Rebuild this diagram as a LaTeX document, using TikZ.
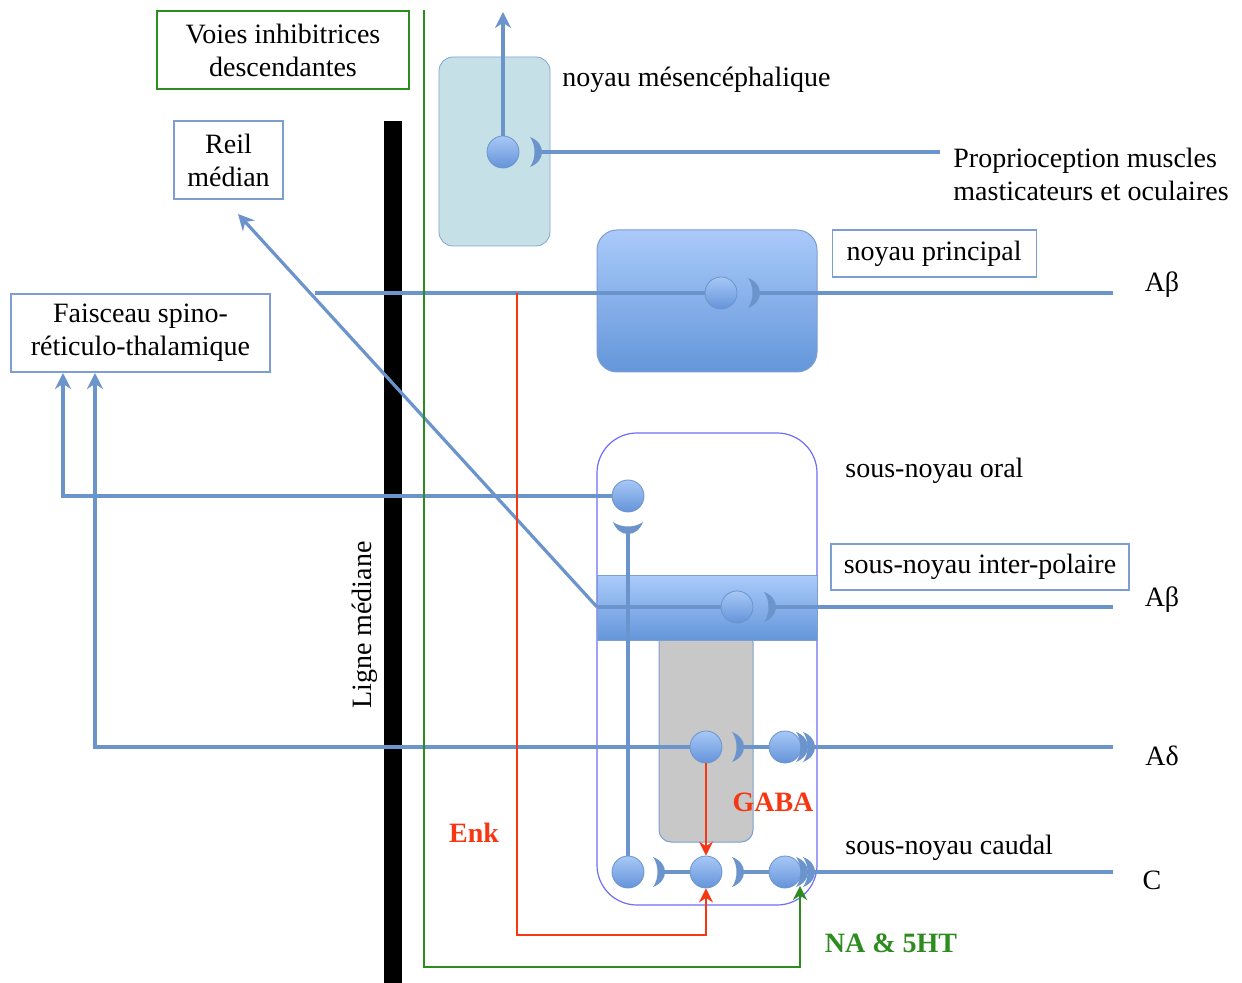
\documentclass[tikz,border=0pt]{standalone}
\usepackage{fontspec}
\setmainfont{Liberation Serif}
\usetikzlibrary{positioning, arrows.meta}

\definecolor{axon}{RGB}{108,148,204}
\definecolor{frameblue}{RGB}{125,158,208}
\definecolor{outerblue}{RGB}{110,110,250}
\definecolor{descgreen}{RGB}{45,140,30}
\definecolor{enkred}{RGB}{245,55,20}
\definecolor{mesfill}{RGB}{198,224,232}
\definecolor{mesdraw}{RGB}{130,165,210}
\definecolor{nucltop}{RGB}{170,202,250}
\definecolor{nuclbot}{RGB}{100,150,218}
\definecolor{somatop}{RGB}{168,200,246}
\definecolor{somabot}{RGB}{100,148,218}
\definecolor{greybox}{RGB}{200,200,200}

\tikzstyle{labelbox} = [rectangle, draw=frameblue, line width=0.6pt, align=center, inner sep=0pt]
\tikzstyle{greenbox} = [rectangle, draw=descgreen, line width=0.6pt, align=center, inner sep=0pt]
\tikzstyle{note} = [align=left, inner sep=0pt, anchor=west]
\tikzstyle{nucleus} = [rectangle, rounded corners=10pt, draw=frameblue, line width=0.5pt, top color=nucltop, bottom color=nuclbot]
\tikzstyle{soma} = [circle, minimum size=16pt, inner sep=0pt, draw=axon, line width=0.4pt, top color=somatop, bottom color=somabot]
\tikzstyle{fibre} = [draw=axon, line width=1.6pt]
\tikzstyle{fibrearrow} = [fibre, -{Stealth[length=8pt, width=8pt]}]
\tikzstyle{redarrow} = [draw=enkred, line width=1pt, -{Stealth[length=7pt, width=7pt]}]
\tikzstyle{greenarrow} = [draw=descgreen, line width=1pt, -{Stealth[length=7pt, width=7pt]}]
\tikzstyle{transmitter} = [font=\fontsize{14}{16.5}\selectfont\bfseries, inner sep=0pt]
\tikzset{bouton/.pic={\fill[axon] (0,-15) .. controls (16,-9) and (16,9) .. (0,15) .. controls (6,7) and (6,-7) .. (0,-15) -- cycle;}}

\begin{document}
\begin{tikzpicture}[x=0.5pt, y=-0.5pt, font=\fontsize{14}{16.5}\selectfont]
\useasboundingbox (0,0) rectangle (1242,983);
\fill[white] (0,0) rectangle (1242,983);

% Midline
\fill[black] (384,121) rectangle (402,983);
\node (midline) [rotate=90] at (365,625) {Ligne médiane};

% Nuclei
\node (mes) [rectangle, rounded corners=7pt, draw=mesdraw, fill=mesfill, minimum width=55.5pt, minimum height=94.5pt] at (494.5,151.5) {};
\node (princ) [nucleus, minimum width=110pt, minimum height=71pt] at (707,301) {};
\node (spinal) [rectangle, rounded corners=20pt, draw=outerblue, line width=0.6pt, minimum width=110pt, minimum height=236pt] at (707,669) {};
\node (grey) [rectangle, rounded corners=6pt, draw=frameblue, line width=0.5pt, fill=greybox, minimum width=47pt, minimum height=106pt] at (706,736) {};
\node (inter) [rectangle, draw=frameblue, line width=0.5pt, top color=nucltop, bottom color=nuclbot, minimum width=110pt, minimum height=32pt] at (707,608) {};

% Boxes and texts
\node (voies) [greenbox, minimum width=126pt, minimum height=39pt] at (283,50) {Voies inhibitrices\\descendantes};
\node (reil) [labelbox, minimum width=54.5pt, minimum height=39pt] at (228.5,160) {Reil\\médian};
\node (faisceau) [labelbox, minimum width=129.5pt, minimum height=39pt] at (140.5,333) {Faisceau spino-\\réticulo-thalamique};
\node (mestext) [note] at (562,80) {noyau mésencéphalique};
\node (proprio) [note] at (953,174) {Proprioception muscles\\masticateurs et oculaires};
\node (princtext) [labelbox, anchor=north west, minimum width=102pt, minimum height=23.5pt] at ([xshift=7pt]princ.north east) {noyau principal};
\node (oraltext) [note] at (845,471) {sous-noyau oral};
\node (intertext) [labelbox, minimum width=149pt, minimum height=23pt] at (980,567) {sous-noyau inter-polaire};
\node (caudtext) [note] at (845,848) {sous-noyau caudal};
\node (abeta1) at (1162,285) {Aβ};
\node (abeta2) at (1162,600) {Aβ};
\node (adelta) at (1162,756) {Aδ};
\node (cfib) at (1152,880) {C};
\node (gaba) [transmitter, text=enkred] at (773,802) {GABA};
\node (enk) [transmitter, text=enkred] at (474,833) {Enk};
\node (nahet) [transmitter, text=descgreen] at (891,943) {NA \& 5HT};

% Neurons
\node (mesN) [soma] at (503,152) {};
\node (prN) [soma] at (721,293) {};
\node (orN) [soma] at (628,496) {};
\node (ipN) [soma] at (737,607) {};
\node (adN1) [soma] at (706,747) {};
\node (adN2) [soma] at (785,747) {};
\node (cN1) [soma] at (628,872) {};
\node (cN2) [soma] at (706,872) {};
\node (cN3) [soma] at (785,872) {};

% Synapses
\coordinate (mesB) at (530,152);
\coordinate (prB) at (748,293);
\coordinate (orB) at (628,522);
\coordinate (ipB) at (764,607);
\coordinate (adB1) at (732,747);
\coordinate (adB2a) at (796,747);
\coordinate (adB2b) at (803,747);
\coordinate (cB1) at (653,872);
\coordinate (cB2) at (732,872);
\coordinate (cB3a) at (796,872);
\coordinate (cB3b) at (803,872);
\foreach \b in {mesB, prB, ipB, adB1, adB2a, adB2b, cB1, cB2, cB3a, cB3b}
  \pic at (\b) {bouton};
\pic[rotate=-90] at (orB) {bouton};

% Free ends
\coordinate (mesTop) at (503,12);
\coordinate (propIn) at (940,152);
\coordinate (prLeft) at (315,293);
\coordinate (prRight) at (1113,293);
\coordinate (ipLeft) at (597,607);
\coordinate (ipRight) at (1113,607);
\coordinate (reilIn) at (238,214);
\coordinate (fsIn1) at (63,373);
\coordinate (fsIn2) at (95,373);
\coordinate (adRight) at (1113,747);
\coordinate (cRight) at (1113,872);
\coordinate (enkStart) at (517,293);
\coordinate (enkCorner) at (706,935);
\coordinate (naStart) at (424,10);
\coordinate (naCorner) at (800,967);
\coordinate (naEnd) at (800,886);

% Fibres
\draw [fibrearrow] (mesN.north) -- (mesTop);
\draw [fibre] ([xshift=5.5pt]mesB) -- (propIn);
\draw [fibre] (prLeft) -- (prN.west);
\draw [fibre] ([xshift=5.5pt]prB) -- (prRight);
\draw [fibrearrow] (ipLeft) -- (reilIn);
\draw [fibre] (ipLeft) -- (ipN.west);
\draw [fibre] ([xshift=5.5pt]ipB) -- (ipRight);
\draw [fibrearrow] (orN.west) -| (fsIn1);
\draw [fibre] ([yshift=-5.5pt]orB) -- (cN1.north);
\draw [fibrearrow] (adN1.west) -| (fsIn2);
\draw [fibre] ([xshift=5.5pt]adB1) -- (adN2.west);
\draw [fibre] ([xshift=5.5pt]adB2b) -- (adRight);
\draw [fibre] ([xshift=5.5pt]cB1) -- (cN2.west);
\draw [fibre] ([xshift=5.5pt]cB2) -- (cN3.west);
\draw [fibre] ([xshift=5.5pt]cB3b) -- (cRight);

% Modulation
\draw [redarrow] (adN1.south) -- (cN2.north);
\draw [redarrow] (enkStart) |- (enkCorner) -- (cN2.south);
\draw [greenarrow] (naStart) |- (naCorner) -- (naEnd);

\end{tikzpicture}
\end{document}
